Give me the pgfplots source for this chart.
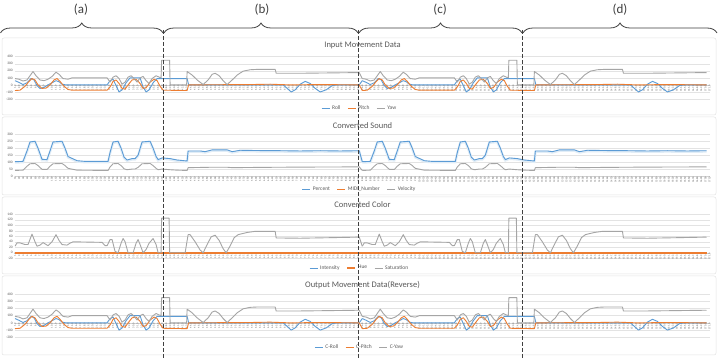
\documentclass[border=0pt]{standalone}
\usepackage{fontspec}
\setmainfont{Carlito}
\usepackage{pgfplots}
\usepackage{pgfplotstable}
\pgfplotsset{compat=1.18}
\usetikzlibrary{decorations.pathreplacing}

\definecolor{xblue}{HTML}{5B9BD5}
\definecolor{xorange}{HTML}{ED7D31}
\definecolor{xgray}{HTML}{A5A5A5}
\definecolor{txt}{HTML}{595959}
\definecolor{dark}{HTML}{404040}

% ---- Input movement data (x = horizontal position of the category, first half) ----
\pgfplotstableread{
x y
15 60
19 35
23 5
27 30
31 90
34 70
37 -10
40 -50
44 -35
48 0
52 30
56 60
59 45
62 10
66 0
107 0
110 60
113 80
116 -10
119 -100
122 -70
126 30
130 100
140 100
143 -30
146 -100
149 -70
153 30
157 90
187 90
188.5 0
283 0
287 -50
291 -100
295 -70
300 10
305 50
310 20
315 -50
320 -100
326 -70
332 -10
337 0
359 0
362 60
}\Proll
\pgfplotstableread{
x y
15 -80
20 -75
25 -20
29 50
32 90
35 70
38 0
42 -50
46 -45
50 0
54 70
57 90
60 50
64 -20
68 -65
72 -75
107 -75
110 -30
113 50
116 70
119 20
122 -50
125 -60
128 0
132 70
136 80
140 20
143 -50
146 -40
150 40
154 80
157 60
160 -20
163 -75
187 -80
188.5 0
250 5
270 10
290 0
320 5
359 0
362 -80
}\Ppitch
\pgfplotstableread{
x y
15 90
19 80
23 55
27 70
30 130
33 190
36 130
40 70
44 60
48 80
52 120
56 180
59 150
63 90
68 80
72 100
107 100
110 40
113 110
116 130
119 90
122 10
125 40
128 110
131 130
134 90
137 40
140 100
143 120
146 60
149 20
152 90
156 130
159 110
161 100
161.5 350
169.5 350
170 0
186.5 0
187 190
192 140
197 70
203 5
208 70
212 150
215 165
219 130
223 60
227 5
232 70
237 140
243 195
250 215
257 220
275 220
276 165
300 165
330 170
359 175
362 90
}\Pyaw
% ---- Converted sound ----
\pgfplotstableread{
x y
15 103
23 105
27 180
30 245
35 250
38 200
42 120
47 118
50 180
53 245
62 250
65 200
68 140
77 110
85 105
108 105
110 170
113 245
118 250
121 200
124 135
127 115
132 125
135 125
138 150
142 245
150 250
153 200
156 140
158 118
162 130
170 125
177 115
187 108
188 180
200 180
205 175
212 188
227 188
232 175
240 185
260 183
280 182
300 180
320 182
340 180
359 182
362 103
}\Spct
\pgfplotstableread{
x y
15 0
359 0
362 0
}\Smidi
\pgfplotstableread{
x y
15 40
23 42
27 70
30 88
35 90
38 75
42 48
47 47
50 70
53 88
62 90
65 75
68 55
77 42
108 40
110 65
113 88
118 90
121 75
124 52
127 45
132 50
135 50
138 62
142 88
150 90
153 75
156 55
158 45
162 50
170 45
177 42
187 40
188 60
212 63
227 63
232 60
260 62
300 64
340 65
359 66
362 40
}\Svel
% ---- Converted color ----
\pgfplotstableread{
x y
15 0
359 0
362 0
}\Cint
\pgfplotstableread{
x y
15 0
359 0
362 0
}\Chue
\pgfplotstableread{
x y
15 24
17 36
20 36
25 30
28 30
32 68
35 40
37 24
40 28
43 37
48 26
52 40
56 66
59 45
62 30
67 28
70 35
73 40
102 38
105 26
107 26
110 48
112 48
115 5
118 0
121 35
123 52
125 40
128 0
133 0
136 35
138 48
140 30
143 0
146 12
149 35
153 52
156 30
158 0
161 0
161.5 126
169 126
169.5 0
185 0
188 66
190 66
195 40
200 10
203 0
207 30
211 58
215 64
219 45
223 15
226 0
230 25
234 55
238 66
247 74
255 78
275 78
276 54
300 53
330 55
359 57
362 24
}\Csat

\pgfplotsset{
  panel/.style={
    scale only axis, width=695pt,
    xmin=15, xmax=709.5,
    axis x line=middle, axis y line=left,
    x axis line style={draw=gray!35,-},
    y axis line style={draw=none},
    hide obscured x ticks=false, hide obscured y ticks=false,
    xtick style={draw=none}, ytick style={draw=none},
    major tick length=0pt,
    ymajorgrids, major grid style={draw=gray!22, line width=0.4pt},
    xtick={15,19.0824,...,709},
    xticklabel={\pgfmathparse{int(round((\tick-15)/4.0824))+1}\pgfmathresult},
    xticklabel style={font=\fontsize{2.6}{3}\selectfont, text=txt, rotate=90, anchor=east, inner sep=0.5pt},
    yticklabel style={font=\fontsize{3.6}{4}\selectfont, text=txt, inner sep=0.5pt, xshift=-1.5pt},
    /pgf/number format/assume math mode=true,
    every axis title/.style={at={(0.5,1)}, anchor=center, font=\fontsize{8.5}{10}\selectfont, text=txt},
    legend columns=3,
    legend style={draw=none, fill=none, font=\fontsize{5.5}{6}\selectfont, text=txt,
      /tikz/every even column/.append style={column sep=5pt}, anchor=center},
    legend image code/.code={\draw[#1] (0pt,0pt) -- (8pt,0pt);},
  },
  sl/.style={line width=0.9pt, line join=round},
  shifted/.style={forget plot, restrict x to domain=0:707},
}

\begin{document}
\begin{tikzpicture}
\useasboundingbox (0,0) rectangle (718pt,359pt);
\fill[white] (0,0) rectangle (718pt,359pt);
% chart frames
\foreach \a/\b in {244/321,164/242,85/162,4/83}
  \draw[gray!22, line width=0.5pt, rounded corners=2pt] (2pt,\a pt) rectangle (716pt,\b pt);

% Panel 1
\begin{axis}[panel, at={(15pt,260pt)}, anchor=south west, height=42.3pt,
  ymin=-200, ymax=400, ytick={-200,-100,...,400},
  title={Input Movement Data}, title style={yshift=11.7pt},
  legend style={at={(0.496,-0.213)}}]
\addplot[sl, xblue] table[x=x,y=y] {\Proll};
\addplot[sl, xorange] table[x=x,y=y] {\Ppitch};
\addplot[sl, xgray] table[x=x,y=y] {\Pyaw};
\addplot[sl, xblue, shifted] table[x expr=\thisrow{x}+347, y=y] {\Proll};
\addplot[sl, xorange, shifted] table[x expr=\thisrow{x}+347, y=y] {\Ppitch};
\addplot[sl, xgray, shifted] table[x expr=\thisrow{x}+347, y=y] {\Pyaw};
\legend{Roll,Pitch,Yaw}
\end{axis}

% Panel 2
\begin{axis}[panel, at={(15pt,183pt)}, anchor=south west, height=41.7pt,
  ymin=0, ymax=300, ytick={0,50,...,300},
  title={Converted Sound}, title style={yshift=8.3pt},
  legend style={at={(0.496,-0.312)}}]
\addplot[line width=2.4pt, xblue!18, forget plot, yshift=-0.8pt] table[x=x,y=y] {\Spct};
\addplot[line width=2.4pt, xblue!18, forget plot, yshift=-0.8pt, restrict x to domain=0:707] table[x expr=\thisrow{x}+347, y=y] {\Spct};
\addplot[sl, xblue] table[x=x,y=y] {\Spct};
\addplot[sl, xorange] table[x=x,y=y] {\Smidi};
\addplot[sl, xgray] table[x=x,y=y] {\Svel};
\addplot[sl, xblue, shifted] table[x expr=\thisrow{x}+347, y=y] {\Spct};
\addplot[sl, xorange, shifted] table[x expr=\thisrow{x}+347, y=y] {\Smidi};
\addplot[sl, xgray, shifted] table[x expr=\thisrow{x}+347, y=y] {\Svel};
\legend{Percent,MIDI\_Number,Velocity}
\end{axis}

% Panel 3
\begin{axis}[panel, at={(15pt,100.7pt)}, anchor=south west, height=44pt,
  ymin=-20, ymax=140, ytick={-20,0,...,140},
  title={Converted Color}, title style={yshift=9.3pt},
  legend style={at={(0.496,-0.22)}}]
\addplot[sl, xblue] table[x=x,y=y] {\Cint};
\addplot[line width=1.6pt, xorange] table[x=x,y=y] {\Chue};
\addplot[sl, xgray] table[x=x,y=y] {\Csat};
\addplot[sl, xblue, shifted] table[x expr=\thisrow{x}+347, y=y] {\Cint};
\addplot[line width=1.6pt, xorange, shifted] table[x expr=\thisrow{x}+347, y=y] {\Chue};
\addplot[sl, xgray, shifted] table[x expr=\thisrow{x}+347, y=y] {\Csat};
\legend{Intensity,Hue,Saturation}
\end{axis}

% Panel 4
\begin{axis}[panel, at={(15pt,21.7pt)}, anchor=south west, height=43.3pt,
  ymin=-200, ymax=400, ytick={-200,-100,...,400},
  title={Output Movement Data(Reverse)}, title style={yshift=9pt},
  legend style={at={(0.496,-0.224)}}]
\addplot[sl, xblue] table[x=x,y=y] {\Proll};
\addplot[sl, xorange] table[x=x,y=y] {\Ppitch};
\addplot[sl, xgray] table[x=x,y=y] {\Pyaw};
\addplot[sl, xblue, shifted] table[x expr=\thisrow{x}+347, y=y] {\Proll};
\addplot[sl, xorange, shifted] table[x expr=\thisrow{x}+347, y=y] {\Ppitch};
\addplot[sl, xgray, shifted] table[x expr=\thisrow{x}+347, y=y] {\Pyaw};
\legend{C-Roll,C-Pitch,C-Yaw}
\end{axis}

% section markers
\foreach \xx in {163,358,522}
  \draw[dark, line width=0.8pt, dash pattern=on 4pt off 2pt] (\xx pt,329pt) -- (\xx pt,0pt);
\foreach \xa/\xb in {0.5/163,164/358,359/522,523/717}
  \draw[dark, line width=0.8pt, decorate, decoration={brace, amplitude=10pt}] (\xa pt,326pt) -- (\xb pt,326pt);
\foreach \xx/\lab in {81/(a),262/(b),440/(c),620/(d)}
  \node[text=dark, font=\fontsize{13}{15}\selectfont] at (\xx pt,349pt) {\lab};
\end{tikzpicture}
\end{document}
